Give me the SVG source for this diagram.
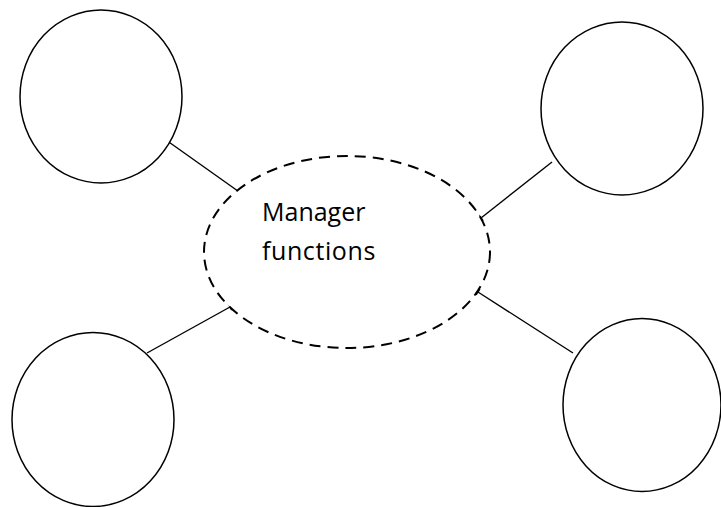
<svg xmlns="http://www.w3.org/2000/svg" width="721" height="507" viewBox="0 0 721 507">
<style>
.node{fill:#fff;stroke:#000;stroke-width:1.5}
.center{fill:#fff;stroke:#000;stroke-width:2;stroke-dasharray:11 7}
.conn{stroke:#000;stroke-width:1.4;fill:none;marker-end:url(#tick)}
.lbl{font-family:"Open Sans","Liberation Sans",sans-serif;font-size:25px;fill:#000}
</style>
<defs>
<marker id="tick" viewBox="-2 -5 4 10" markerWidth="4" markerHeight="10" refX="0" refY="0" orient="auto" markerUnits="userSpaceOnUse">
<path d="M0,-3.5 L0,3.5" stroke="#000" stroke-width="1.4"/>
</marker>
</defs>
<rect width="721" height="507" fill="#fff"/>
<g id="connectors">
<line class="conn" x1="166" y1="140" x2="240" y2="192.5"/>
<line class="conn" x1="552" y1="162" x2="481" y2="218"/>
<line class="conn" x1="147" y1="353" x2="230" y2="307"/>
<line class="conn" x1="573" y1="353" x2="478" y2="292"/>
</g>
<g id="n-center">
<ellipse class="center" cx="347" cy="252" rx="143" ry="96"/>
<text class="lbl" x="262" y="221">Manager</text>
<text class="lbl" x="262" y="260" letter-spacing="0.6">functions</text>
</g>
<g id="n-topleft"><ellipse class="node" cx="101" cy="96.5" rx="81" ry="86.5"/></g>
<g id="n-topright"><ellipse class="node" cx="622" cy="108.5" rx="81" ry="86.5"/></g>
<g id="n-bottomleft"><ellipse class="node" cx="93" cy="419.5" rx="81" ry="87"/></g>
<g id="n-bottomright"><ellipse class="node" cx="642" cy="405" rx="79" ry="86.5"/></g>
</svg>
